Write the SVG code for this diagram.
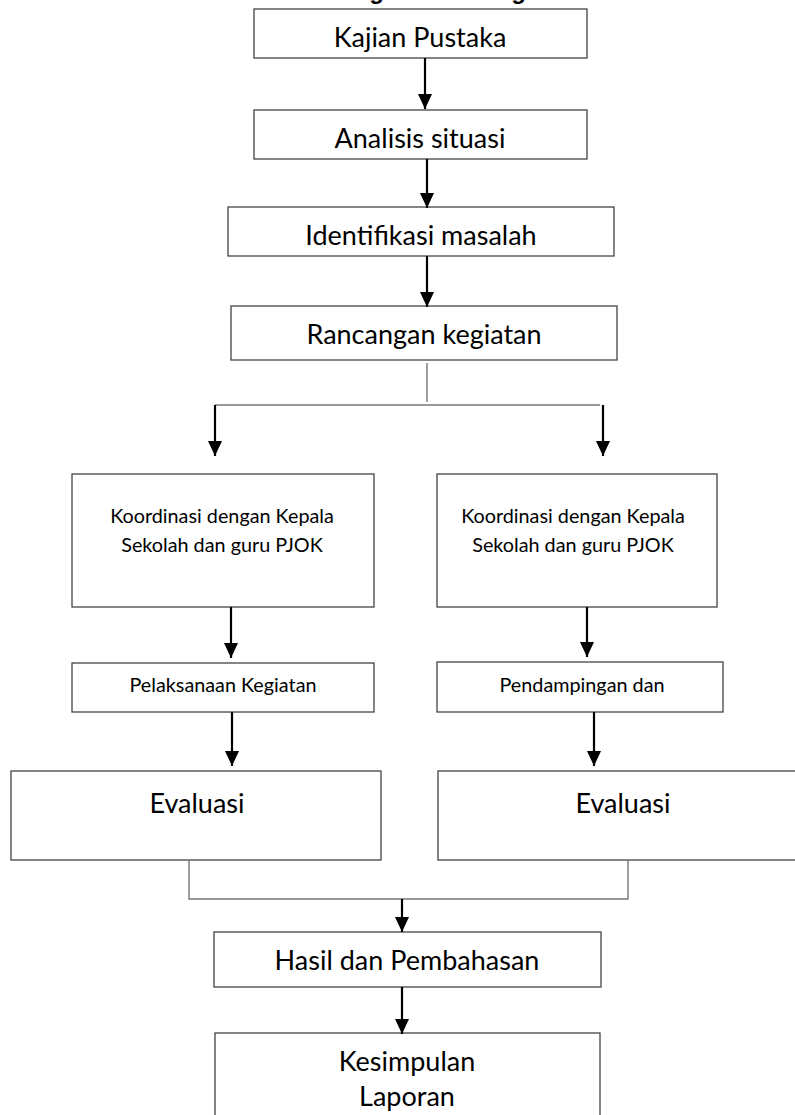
<svg xmlns="http://www.w3.org/2000/svg" width="795" height="1115" viewBox="0 0 795 1115">
<style>
.box{fill:#fff;stroke:#444;stroke-width:1.3}
.t{font-family:Lato,"Open Sans",sans-serif;fill:#000;text-anchor:middle}
.big{font-size:27px}
.sm{font-size:19.8px}
.arr{stroke:#000;stroke-width:2.2;fill:none;marker-end:url(#ah)}
.ln{stroke:#777;stroke-width:1.4;fill:none}
.title{font-family:"Liberation Sans",Arial,sans-serif;font-weight:bold;font-size:24px;fill:#000}
</style>
<defs>
<marker id="ah" markerUnits="userSpaceOnUse" markerWidth="15" markerHeight="16" refX="15" refY="7" orient="auto">
<path d="M0,0 L15,7 L0,14 Z" fill="#000"/>
</marker>
</defs>
<text class="title" x="332" y="-1">Diagram Alir Kegiatan</text>
<g id="n1"><rect class="box" x="254" y="9" width="333" height="49"/><text class="t big" x="420" y="47">Kajian Pustaka</text></g>
<g id="n2"><rect class="box" x="254" y="110" width="333" height="49"/><text class="t big" x="420" y="148">Analisis situasi</text></g>
<g id="n3"><rect class="box" x="228" y="207" width="386" height="49"/><text class="t big" x="421" y="245">Identifikasi masalah</text></g>
<g id="n4"><rect class="box" x="231" y="306" width="386" height="54"/><text class="t big" x="424" y="344">Rancangan kegiatan</text></g>
<g id="n5"><rect class="box" x="72" y="474" width="302" height="133"/><text class="t sm" x="222" y="523">Koordinasi dengan Kepala</text><text class="t sm" x="222" y="552">Sekolah dan guru PJOK</text></g>
<g id="n6"><rect class="box" x="437" y="474" width="280" height="133"/><text class="t sm" x="573" y="523">Koordinasi dengan Kepala</text><text class="t sm" x="573" y="552">Sekolah dan guru PJOK</text></g>
<g id="n7"><rect class="box" x="72" y="663" width="302" height="49"/><text class="t sm" x="223" y="692">Pelaksanaan Kegiatan</text></g>
<g id="n8"><rect class="box" x="437" y="662" width="286" height="50"/><text class="t sm" x="582" y="692">Pendampingan dan</text></g>
<g id="n9"><rect class="box" x="11" y="771" width="370" height="89"/><text class="t big" x="197" y="813">Evaluasi</text></g>
<g id="n10"><rect class="box" x="438" y="771" width="380" height="89"/><text class="t big" x="623" y="813">Evaluasi</text></g>
<g id="n11"><rect class="box" x="214" y="932" width="387" height="55"/><text class="t big" x="407" y="970">Hasil dan Pembahasan</text></g>
<g id="n12"><rect class="box" x="215" y="1033" width="385" height="100"/><text class="t big" x="407" y="1071">Kesimpulan</text><text class="t big" x="407" y="1106">Laporan</text></g>
<g id="connectors">
<line class="arr" x1="425" y1="58" x2="425" y2="109"/>
<line class="arr" x1="427" y1="159" x2="427" y2="208"/>
<line class="arr" x1="427" y1="256" x2="427" y2="307"/>
<line class="ln" x1="427" y1="363" x2="427" y2="402"/>
<line class="ln" x1="215" y1="405" x2="600" y2="405"/>
<line class="arr" x1="215" y1="405" x2="215" y2="456"/>
<line class="arr" x1="603" y1="405" x2="603" y2="456"/>
<line class="arr" x1="231" y1="607" x2="231" y2="658"/>
<line class="arr" x1="587" y1="607" x2="587" y2="657"/>
<line class="arr" x1="232" y1="712" x2="232" y2="766"/>
<line class="arr" x1="594" y1="712" x2="594" y2="766"/>
<polyline class="ln" points="189,860 189,899 628,899 628,860"/>
<line class="arr" x1="402" y1="899" x2="402" y2="932"/>
<line class="arr" x1="402" y1="987" x2="402" y2="1034"/>
</g>
</svg>
